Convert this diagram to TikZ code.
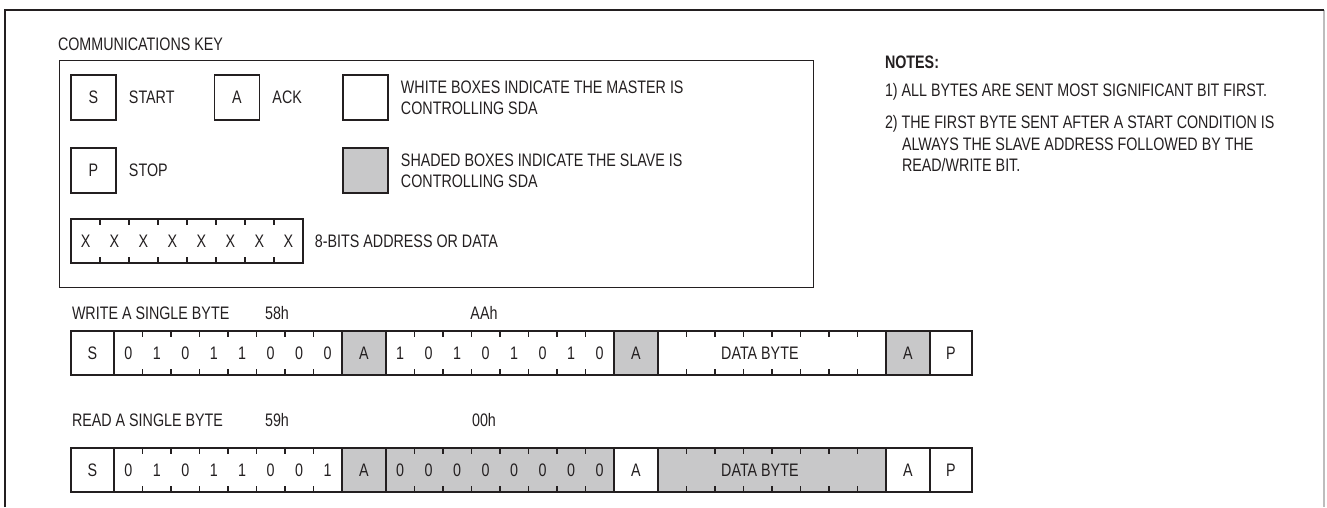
\documentclass[tikz,border=0pt]{standalone}
\usepackage{fontspec}
\setmainfont[FakeStretch=0.79]{Liberation Sans}
\usetikzlibrary{calc,positioning}
\definecolor{Ink}{HTML}{231F20}
\definecolor{Shade}{HTML}{C8C8C9}
\definecolor{Rule}{HTML}{BDBDBD}
\tikzset{
  txt/.style={inner sep=0pt, outer sep=0pt, text=Ink,
    font=\fontsize{10.3}{12.2}\selectfont},
  cell/.style={draw=Ink, line width=0.75pt, fill=white, inner sep=0pt,
    outer sep=0pt, minimum height=0.88cm, text=Ink,
    font=\fontsize{10.3}{12.2}\selectfont},
  shaded/.style={cell, fill=Shade},
  keysq/.style={cell, minimum width=0.9cm, minimum height=0.9cm},
  bytecell/.style={cell, minimum width=4.56cm},
  tick/.style={draw=Ink, line width=0.75pt}
}

\begin{document}
\begin{tikzpicture}[x=0.02cm, y=-0.02cm]
  \useasboundingbox (0,0) rectangle (1327,507);
  % page frame
  \draw[Rule, line width=0.6pt] (1324,10) -- (1324,507);
  \draw[Ink, line width=1.2pt] (5,507) -- (5,10) -- (1324,10);

  % communications key
  \node[txt, anchor=base west] (keytitle) at (58,50) {COMMUNICATIONS KEY};
  \node[draw=Ink, line width=0.75pt, inner sep=0pt, minimum width=15.08cm,
    minimum height=4.54cm, anchor=north west] (key) at (59,60) {};
  \node[keysq] (ks) at (93.5,97.5) {S};
  \node[txt, right=0.26cm of ks] (kstart) {START};
  \node[keysq] (ka) at (237,97.5) {A};
  \node[txt, right=0.26cm of ka] (kack) {ACK};
  \node[keysq] (kw) at (365.5,97.5) {};
  \node[txt, align=left, right=0.26cm of kw] (kwtxt)
    {WHITE BOXES INDICATE THE MASTER IS\\CONTROLLING SDA};
  \node[keysq] (kp) at (93.5,170.5) {P};
  \node[txt, right=0.26cm of kp] (kstop) {STOP};
  \node[keysq, fill=Shade] (kg) at (365.5,170.5) {};
  \node[txt, align=left, right=0.26cm of kg] (kgtxt)
    {SHADED BOXES INDICATE THE SLAVE IS\\CONTROLLING SDA};
  \node[cell, minimum width=4.64cm] (kx) at (187,241) {};
  \foreach \i in {1,...,8}
    \node[txt] (kx\i) at ($(kx.west)!{(\i-0.5)/8}!(kx.east)$) {X};
  \foreach \i in {1,...,7} {
    \draw[tick] ($(kx.north west)!\i/8!(kx.north east)$) -- ++(0,6);
    \draw[tick] ($(kx.south west)!\i/8!(kx.south east)$) -- ++(0,-6);
  }
  \node[txt, right=0.24cm of kx] (kxtxt) {8-BITS ADDRESS OR DATA};

  % notes
  \node[txt, anchor=base west, font=\fontsize{10.3}{12.2}\selectfont\bfseries]
    (notes) at (885,68) {NOTES:};
  \node[txt, anchor=base west] (note1) at (885,96.5)
    {1) ALL BYTES ARE SENT MOST SIGNIFICANT BIT FIRST.};
  \node[txt, anchor=base west] (note2) at (885,128.5)
    {2) THE FIRST BYTE SENT AFTER A START CONDITION IS};
  \node[txt, anchor=base west] (note2b) at (902,150)
    {ALWAYS THE SLAVE ADDRESS FOLLOWED BY THE};
  \node[txt, anchor=base west] (note2c) at (902,171.5) {READ/WRITE BIT.};

  % write a single byte
  \node[txt, anchor=base west] (wlabel) at (72,319.5) {WRITE A SINGLE BYTE};
  \node[txt, anchor=base] (whex1) at (277,319.5) {58h};
  \node[txt, anchor=base] (whex2) at (484,319.5) {AAh};
  \node[cell, minimum width=0.86cm] (ws) at (92.5,353) {S};
  \node[bytecell, right=0pt of ws] (wb1) {};
  \node[shaded, minimum width=0.88cm, right=0pt of wb1] (wa1) {A};
  \node[bytecell, right=0pt of wa1] (wb2) {};
  \node[shaded, minimum width=0.88cm, right=0pt of wb2] (wa2) {A};
  \node[bytecell, right=0pt of wa2] (wd) {};
  \node[shaded, minimum width=0.88cm, right=0pt of wd] (wa3) {A};
  \node[cell, minimum width=0.84cm, right=0pt of wa3] (wp) {P};
  \node[txt, xshift=-0.24cm] (wdtxt) at (wd) {DATA BYTE};
  \foreach \b [count=\i] in {0,1,0,1,1,0,0,0}
    \node[txt] (wb1x\i) at ($(wb1.west)!{(\i-0.5)/8}!(wb1.east)$) {\b};
  \foreach \b [count=\i] in {1,0,1,0,1,0,1,0}
    \node[txt] (wb2x\i) at ($(wb2.west)!{(\i-0.5)/8}!(wb2.east)$) {\b};

  % read a single byte
  \node[txt, anchor=base west] (rlabel) at (72,426.5) {READ A SINGLE BYTE};
  \node[txt, anchor=base] (rhex1) at (277,426.5) {59h};
  \node[txt, anchor=base] (rhex2) at (484,426.5) {00h};
  \node[cell, minimum width=0.86cm] (rs) at (92.5,470) {S};
  \node[bytecell, right=0pt of rs] (rb1) {};
  \node[shaded, minimum width=0.88cm, right=0pt of rb1] (ra1) {A};
  \node[bytecell, fill=Shade, right=0pt of ra1] (rb2) {};
  \node[cell, minimum width=0.88cm, right=0pt of rb2] (ra2) {A};
  \node[bytecell, fill=Shade, right=0pt of ra2] (rd) {};
  \node[cell, minimum width=0.88cm, right=0pt of rd] (ra3) {A};
  \node[cell, minimum width=0.84cm, right=0pt of ra3] (rp) {P};
  \node[txt, xshift=-0.24cm] (rdtxt) at (rd) {DATA BYTE};
  \foreach \b [count=\i] in {0,1,0,1,1,0,0,1}
    \node[txt] (rb1x\i) at ($(rb1.west)!{(\i-0.5)/8}!(rb1.east)$) {\b};
  \foreach \b [count=\i] in {0,0,0,0,0,0,0,0}
    \node[txt] (rb2x\i) at ($(rb2.west)!{(\i-0.5)/8}!(rb2.east)$) {\b};

  % bit ticks
  \foreach \n in {wb1,wb2,wd,rb1,rb2,rd}
    \foreach \i in {1,...,7} {
      \draw[tick] ($(\n.north west)!\i/8!(\n.north east)$) -- ++(0,6);
      \draw[tick] ($(\n.south west)!\i/8!(\n.south east)$) -- ++(0,-6);
    }
\end{tikzpicture}
\end{document}
